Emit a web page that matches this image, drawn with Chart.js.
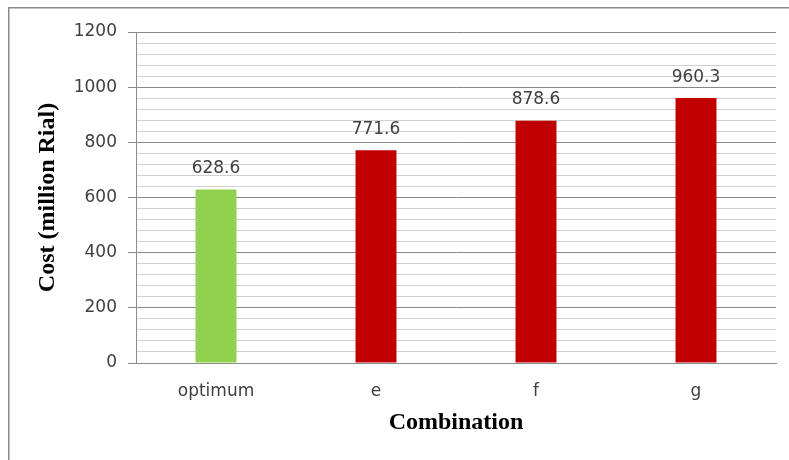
<!DOCTYPE html>
<html>
<head>
<meta charset="utf-8">
<script src="https://cdn.jsdelivr.net/npm/chart.js@4.4.1/dist/chart.umd.min.js"></script>
<style>
  html, body { margin: 0; padding: 0; background: #ffffff; }
  #wrap { width: 789px; height: 460px; position: relative; }
</style>
</head>
<body>
<div id="wrap"><canvas id="chart" width="789" height="460"></canvas></div>
<script>
// Cost of each combination, in million Rial
const categories = ['optimum', 'e', 'f', 'g'];
const costs = [628.6, 771.6, 878.6, 960.3];
const barColors = ['#92d050', '#c00000', '#c00000', '#c00000'];
const yMin = 0;
const yMax = 1200;
const majorStep = 200;
const minorStep = 40;

// Thin grey frame around the whole figure
const framePlugin = {
  id: 'frame',
  beforeDraw(chart) {
    const ctx = chart.ctx;
    ctx.save();
    ctx.fillStyle = '#ffffff';
    ctx.fillRect(0, 0, chart.width, chart.height);
    ctx.strokeStyle = '#8a8a8a';
    ctx.lineWidth = 1.5;
    ctx.strokeRect(8.75, 7.75, chart.width + 20, chart.height + 20);
    ctx.restore();
  }
};

// Value printed above each bar
const valueLabels = {
  id: 'valueLabels',
  afterDatasetsDraw(chart) {
    const ctx = chart.ctx;
    const meta = chart.getDatasetMeta(0);
    ctx.save();
    ctx.font = '17px "DejaVu Sans"';
    ctx.fillStyle = '#404040';
    ctx.textAlign = 'center';
    ctx.textBaseline = 'middle';
    meta.data.forEach((bar, i) => {
      ctx.fillText(costs[i].toFixed(1), bar.x, bar.y - 21);
    });
    ctx.restore();
  }
};

new Chart(document.getElementById('chart'), {
  type: 'bar',
  data: {
    labels: categories,
    datasets: [{
      data: costs,
      backgroundColor: barColors,
      borderWidth: 0,
      barPercentage: 0.256,
      categoryPercentage: 1.0
    }]
  },
  options: {
    responsive: false,
    animation: false,
    layout: { padding: { left: 33, top: 32, right: 13, bottom: 23 } },
    plugins: {
      legend: { display: false },
      tooltip: { enabled: false }
    },
    scales: {
      x: {
        grid: { display: false, drawTicks: false },
        border: { display: true, color: '#8c8c8c', width: 1 },
        ticks: {
          padding: 18,
          color: '#404040',
          font: { family: '"DejaVu Sans"', size: 17 }
        },
        title: {
          display: true,
          text: 'Combination',
          color: '#000000',
          padding: 0,
          font: { family: '"Liberation Serif"', size: 24, weight: 'bold' }
        },
        afterFit(scale) { scale.height = 74; }
      },
      y: {
        min: yMin,
        max: yMax,
        grid: {
          color: (c) => (c.tick && c.tick.value % majorStep === 0) ? '#888888' : '#d0d0d0',
          tickColor: (c) => (c.tick && c.tick.value % majorStep === 0) ? '#888888' : 'rgba(0,0,0,0)',
          tickLength: 8,
          lineWidth: 1
        },
        border: { display: true, color: '#8c8c8c', width: 1 },
        ticks: {
          stepSize: minorStep,
          autoSkip: false,
          padding: 11,
          color: '#404040',
          font: { family: '"DejaVu Sans"', size: 17 },
          callback: (v) => (v % majorStep === 0 ? String(v) : '')
        },
        title: {
          display: true,
          text: 'Cost (million Rial)',
          color: '#000000',
          padding: 0,
          font: { family: '"Liberation Serif"', size: 24, weight: 'bold' }
        },
        afterFit(scale) { scale.width = 103; }
      }
    }
  },
  plugins: [framePlugin, valueLabels]
});
</script>
</body>
</html>
